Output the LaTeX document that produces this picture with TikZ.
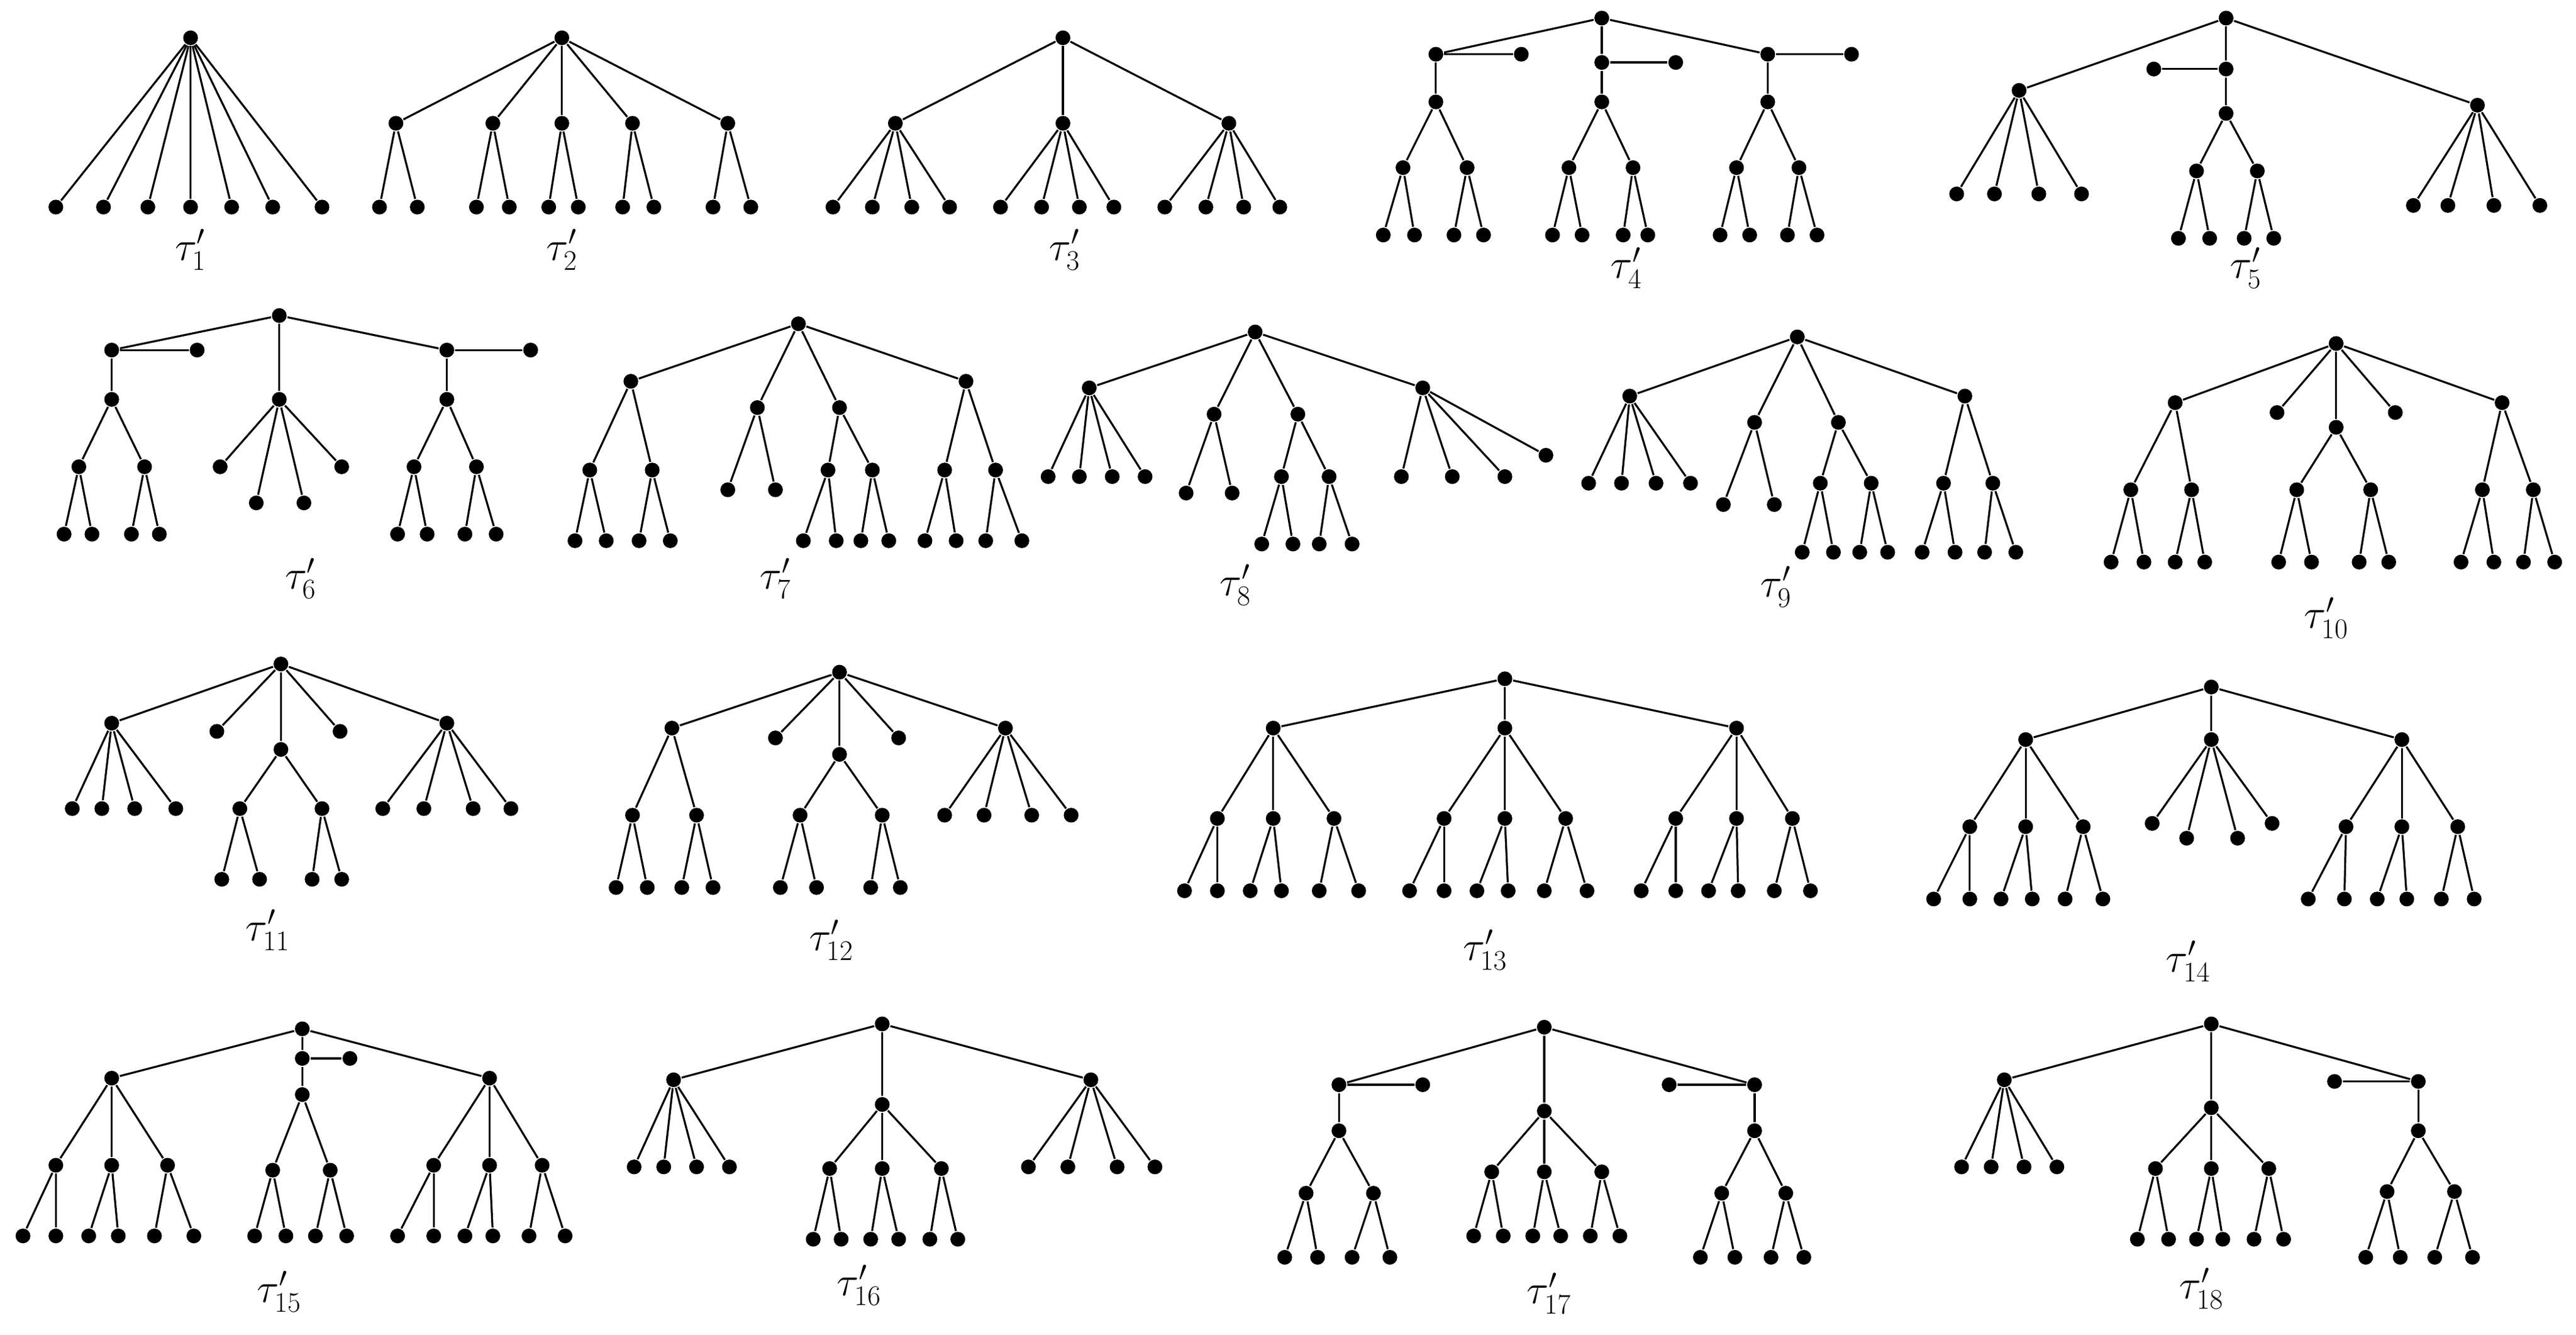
\documentclass[tikz,border=0pt]{standalone}
\begin{document}
\begin{tikzpicture}[x=1pt,y=-1pt,
  dot/.style={circle,fill=black,inner sep=0pt,minimum size=9pt},
  lbl/.style={font=\fontsize{24}{28}\selectfont},
  every path/.style={line width=1.2pt}]
\useasboundingbox (0,0) rectangle (1568,812);
\newcommand{\Nd}[1]{\foreach \n/\x/\y in {#1} \node[dot] (\n) at (\x,\y) {};}
\newcommand{\Ed}[1]{\foreach \a/\b in {#1} \draw (\a)--(\b);}
% tree 1
\Nd{Ar/116/23,A1/34/126,A2/63/126,A3/90/126,A4/116/126,A5/141/126,A6/166/126,A7/196/126}
\Ed{Ar/A1,Ar/A2,Ar/A3,Ar/A4,Ar/A5,Ar/A6,Ar/A7}
\node[lbl] (Al) at (116,152) {$\tau'_1$};
% tree 2
\Nd{Br/342/23,B1/241/75,B2/300/75,B3/342/75,B4/385/75,B5/443/75,
 Ba/231/126,Bb/254/126,Bc/290/126,Bd/310/126,Be/334/126,Bf/352/126,Bg/379/126,Bh/398/126,Bi/434/126,Bj/457/126}
\Ed{Br/B1,Br/B2,Br/B3,Br/B4,Br/B5,B1/Ba,B1/Bb,B2/Bc,B2/Bd,B3/Be,B3/Bf,B4/Bg,B4/Bh,B5/Bi,B5/Bj}
\node[lbl] (Bl) at (342,152) {$\tau'_2$};
% tree 3
\Nd{Cr/647/23,C1/545/75,C2/647/75,C3/748/75,
 Ca/507/126,Cb/531/126,Cc/555/126,Cd/578/126,Ce/609/126,Cf/634/126,Cg/657/126,Ch/678/126,Ci/709/126,Cj/734/126,Ck/757/126,Cm/779/126}
\Ed{Cr/C1,Cr/C2,Cr/C3,C1/Ca,C1/Cb,C1/Cc,C1/Cd,C2/Ce,C2/Cf,C2/Cg,C2/Ch,C3/Ci,C3/Cj,C3/Ck,C3/Cm}
\node[lbl] (Cl) at (648,152) {$\tau'_3$};
% tree 4
\Nd{Dr/975/11,D1/874/33,D1s/926/33,D1m/874/62,D1a/854/102,D1b/893/102,Da/842/143,Db/861/143,Dc/885/143,Dd/903/143,
 D2/975/38,D2s/1020/38,D2m/975/62,D2a/955/102,D2b/994/102,De/945/143,Df/963/143,Dg/988/143,Dh/1003/143,
 D3/1076/33,D3s/1127/33,D3m/1076/62,D3a/1057/102,D3b/1095/102,Di/1047/143,Dj/1065/143,Dk/1088/143,Dm/1106/143}
\Ed{Dr/D1,Dr/D2,Dr/D3,D1/D1s,D1/D1m,D1m/D1a,D1m/D1b,D1a/Da,D1a/Db,D1b/Dc,D1b/Dd,
 D2/D2s,D2/D2m,D2m/D2a,D2m/D2b,D2a/De,D2a/Df,D2b/Dg,D2b/Dh,
 D3/D3s,D3/D3m,D3m/D3a,D3m/D3b,D3a/Di,D3a/Dj,D3b/Dk,D3b/Dm}
\node[lbl] (Dl) at (990,163) {$\tau'_4$};
% tree 5
\Nd{Er/1355/11,E1/1229/55,E2/1355/42,E2s/1311/42,E2m/1355/69,E3/1508/64,
 Ea/1191/118,Eb/1214/118,Ec/1241/118,Ed/1267/118,
 E2a/1337/104,E2b/1374/104,Ee/1326/145,Ef/1345/145,Eg/1366/145,Eh/1384/145,
 Ei/1469/125,Ej/1490/125,Ek/1518/125,Em/1546/125}
\Ed{Er/E1,Er/E2,Er/E3,E1/Ea,E1/Eb,E1/Ec,E1/Ed,E2/E2s,E2/E2m,E2m/E2a,E2m/E2b,E2a/Ee,E2a/Ef,E2b/Eg,E2b/Eh,
 E3/Ei,E3/Ej,E3/Ek,E3/Em}
\node[lbl] (El) at (1367,163) {$\tau'_5$};
% tree 6
\Nd{Fr/170/192,F1/68/213,F1s/120/213,F1m/68/243,F1a/48/284,F1b/88/284,Fa/39/325,Fb/56/325,Fc/80/325,Fd/97/325,
 F2/170/243,Fe/134/284,Ff/156/306,Fg/185/306,Fh/208/284,
 F3/272/213,F3s/323/213,F3m/272/243,F3a/252/284,F3b/290/284,Fi/242/325,Fj/260/325,Fk/283/325,Fm/302/325}
\Ed{Fr/F1,Fr/F2,Fr/F3,F1/F1s,F1/F1m,F1m/F1a,F1m/F1b,F1a/Fa,F1a/Fb,F1b/Fc,F1b/Fd,
 F2/Fe,F2/Ff,F2/Fg,F2/Fh,F3/F3s,F3/F3m,F3m/F3a,F3m/F3b,F3a/Fi,F3a/Fj,F3b/Fk,F3b/Fm}
\node[lbl] (Fl) at (183,352) {$\tau'_6$};
% tree 7
\Nd{Gr/486/197,G1/384/232,G2/461/248,G3/511/248,G4/588/232,
 G1a/359/286,G1b/397/286,Ga/350/329,Gb/369/329,Gc/389/329,Gd/408/329,
 Ge/443/298,Gf/472/298,
 G3a/504/286,G3b/531/286,Gg/489/329,Gh/509/329,Gi/524/329,Gj/541/329,
 G4a/575/286,G4b/606/286,Gk/563/329,Gm/582/329,Gn/600/329,Go/622/329}
\Ed{Gr/G1,Gr/G2,Gr/G3,Gr/G4,G1/G1a,G1/G1b,G1a/Ga,G1a/Gb,G1b/Gc,G1b/Gd,G2/Ge,G2/Gf,
 G3/G3a,G3/G3b,G3a/Gg,G3a/Gh,G3b/Gi,G3b/Gj,G4/G4a,G4/G4b,G4a/Gk,G4a/Gm,G4b/Gn,G4b/Go}
\node[lbl] (Gl) at (472,352) {$\tau'_7$};
% tree 8
\Nd{Hr/764/202,H1/663/236,H2/739/252,H3/790/252,H4/866/236,
 Ha/638/290,Hb/657/290,Hc/677/290,Hd/697/290,He/722/300,Hf/750/300,
 H3a/780/290,H3b/809/290,Hg/768/331,Hh/787/331,Hi/803/331,Hj/823/331,
 Hk/853/290,Hm/884/290,Hn/916/290,Ho/941/277}
\Ed{Hr/H1,Hr/H2,Hr/H3,Hr/H4,H1/Ha,H1/Hb,H1/Hc,H1/Hd,H2/He,H2/Hf,H3/H3a,H3/H3b,H3a/Hg,H3a/Hh,H3b/Hi,H3b/Hj,
 H4/Hk,H4/Hm,H4/Hn,H4/Ho}
\node[lbl] (Hl) at (752,356) {$\tau'_8$};
% tree 9
\Nd{Ir/1094/205,I1/992/241,I2/1068/257,I3/1119/257,I4/1196/241,
 Ia/967/294,Ib/987/294,Ic/1008/294,Id/1029/294,Ie/1049/307,If/1080/307,
 I3a/1108/294,I3b/1139/294,Ig/1097/336,Ih/1116/336,Ii/1132/336,Ij/1149/336,
 I4a/1183/294,I4b/1213/294,Ik/1170/336,Im/1190/336,In/1208/336,Io/1227/336}
\Ed{Ir/I1,Ir/I2,Ir/I3,Ir/I4,I1/Ia,I1/Ib,I1/Ic,I1/Id,I2/Ie,I2/If,I3/I3a,I3/I3b,I3a/Ig,I3a/Ih,I3b/Ii,I3b/Ij,
 I4/I4a,I4/I4b,I4a/Ik,I4a/Im,I4b/In,I4b/Io}
\node[lbl] (Il) at (1081,357) {$\tau'_9$};
% tree 10
\Nd{Jr/1422/209,J1/1324/245,J2/1386/251,J3/1422/260,J4/1458/251,J5/1523/245,
 J1a/1297/298,J1b/1334/298,Ja/1285/342,Jb/1305/342,Jc/1324/342,Jd/1342/342,
 J3a/1398/298,J3b/1443/298,Je/1387/342,Jf/1407/342,Jg/1436/342,Jh/1454/342,
 J5a/1511/298,J5b/1542/298,Ji/1498/342,Jj/1518/342,Jk/1536/342,Jm/1555/342}
\Ed{Jr/J1,Jr/J2,Jr/J3,Jr/J4,Jr/J5,J1/J1a,J1/J1b,J1a/Ja,J1a/Jb,J1b/Jc,J1b/Jd,
 J3/J3a,J3/J3b,J3a/Je,J3a/Jf,J3b/Jg,J3b/Jh,J5/J5a,J5/J5b,J5a/Ji,J5a/Jj,J5b/Jk,J5b/Jm}
\node[lbl] (Jl) at (1416,376) {$\tau'_{10}$};
% tree 11
\Nd{Kr/171/404,K1/68/440,K2/132/445,K3/171/456,K4/207/445,K5/272/440,
 Ka/44/492,Kb/62/492,Kc/82/492,Kd/107/492,
 K3a/146/492,K3b/196/492,Ke/135/535,Kf/158/535,Kg/190/535,Kh/208/535,
 Ki/233/492,Kj/258/492,Kk/288/492,Km/311/492}
\Ed{Kr/K1,Kr/K2,Kr/K3,Kr/K4,Kr/K5,K1/Ka,K1/Kb,K1/Kc,K1/Kd,K3/K3a,K3/K3b,K3a/Ke,K3a/Kf,K3b/Kg,K3b/Kh,
 K5/Ki,K5/Kj,K5/Kk,K5/Km}
\node[lbl] (Kl) at (163,566) {$\tau'_{11}$};
% tree 12
\Nd{Lr/511/409,L1/409/443,L2/472/449,L3/511/459,L4/547/449,L5/612/443,
 L1a/385/496,L1b/424/496,La/375/540,Lb/394/540,Lc/415/540,Ld/434/540,
 L3a/487/496,L3b/537/496,Le/475/540,Lf/497/540,Lg/530/540,Lh/548/540,
 Li/575/496,Lj/599/496,Lk/628/496,Lm/652/496}
\Ed{Lr/L1,Lr/L2,Lr/L3,Lr/L4,Lr/L5,L1/L1a,L1/L1b,L1a/La,L1a/Lb,L1b/Lc,L1b/Ld,
 L3/L3a,L3/L3b,L3a/Le,L3a/Lf,L3b/Lg,L3b/Lh,L5/Li,L5/Lj,L5/Lk,L5/Lm}
\node[lbl] (Ll) at (506,572) {$\tau'_{12}$};
% tree 13
\Nd{Mr/916/413,M1/775/443,M2/916/443,M3/1057/443,
 M1a/741/498,M1b/775/498,M1c/812/498,Ma/721/542,Mb/741/542,Mc/761/542,Md/780/542,Me/803/542,Mf/827/542,
 M2a/879/498,M2b/916/498,M2c/953/498,Mg/858/542,Mh/879/542,Mi/899/542,Mj/918/542,Mk/940/542,Mm/966/542,
 M3a/1020/498,M3b/1057/498,M3c/1091/498,Mn/999/542,Mo/1020/542,Mp/1040/542,Mq/1058/542,Ms/1080/542,Mt/1102/542}
\Ed{Mr/M1,Mr/M2,Mr/M3,M1/M1a,M1/M1b,M1/M1c,M1a/Ma,M1a/Mb,M1b/Mc,M1b/Md,M1c/Me,M1c/Mf,
 M2/M2a,M2/M2b,M2/M2c,M2a/Mg,M2a/Mh,M2b/Mi,M2b/Mj,M2c/Mk,M2c/Mm,
 M3/M3a,M3/M3b,M3/M3c,M3a/Mn,M3a/Mo,M3b/Mp,M3b/Mq,M3c/Ms,M3c/Mt}
\node[lbl] (Ml) at (904,578) {$\tau'_{13}$};
% tree 14
\Nd{Nr/1346/418,N1/1233/450,N2/1346/450,N3/1462/450,
 N1a/1199/503,N1b/1233/503,N1c/1268/503,Na/1177/547,Nb/1199/547,Nc/1218/547,Nd/1237/547,Ne/1257/547,Nf/1280/547,
 Ng/1310/501,Nh/1331/510,Ni/1362/510,Nj/1383/501,
 N3a/1428/503,N3b/1462/503,N3c/1496/503,Nk/1405/547,Nm/1427/547,Nn/1447/547,No/1465/547,Np/1486/547,Nq/1506/547}
\Ed{Nr/N1,Nr/N2,Nr/N3,N1/N1a,N1/N1b,N1/N1c,N1a/Na,N1a/Nb,N1b/Nc,N1b/Nd,N1c/Ne,N1c/Nf,
 N2/Ng,N2/Nh,N2/Ni,N2/Nj,N3/N3a,N3/N3b,N3/N3c,N3a/Nk,N3a/Nm,N3b/Nn,N3b/No,N3c/Np,N3c/Nq}
\node[lbl] (Nl) at (1332,585) {$\tau'_{14}$};
% tree 15
\Nd{Or/184/626,O1/68/656,O2/184/644,O2s/213/644,O2m/184/666,O3/298/656,
 O1a/34/709,O1b/68/709,O1c/102/709,Oa/14/752,Ob/34/752,Oc/54/752,Od/72/752,Oe/94/752,Of/118/752,
 O2a/166/712,O2b/201/712,Og/155/752,Oh/174/752,Oi/192/752,Oj/211/752,
 O3a/264/709,O3b/298/709,O3c/330/709,Ok/242/752,Om/264/752,On/283/752,Oo/300/752,Op/322/752,Oq/344/752}
\Ed{Or/O1,Or/O2,Or/O3,O2/O2s,O2/O2m,O1/O1a,O1/O1b,O1/O1c,O1a/Oa,O1a/Ob,O1b/Oc,O1b/Od,O1c/Oe,O1c/Of,
 O2m/O2a,O2m/O2b,O2a/Og,O2a/Oh,O2b/Oi,O2b/Oj,
 O3/O3a,O3/O3b,O3/O3c,O3a/Ok,O3a/Om,O3b/On,O3b/Oo,O3c/Op,O3c/Oq}
\node[lbl] (Ol) at (170,786) {$\tau'_{15}$};
% tree 16
\Nd{Pr/537/623,P1/410/657,P2/537/672,P3/664/657,
 Pa/386/710,Pb/404/710,Pc/424/710,Pd/444/710,
 P2a/505/711,P2b/537/711,P2c/573/711,Pe/495/754,Pf/512/754,Pg/530/754,Ph/547/754,Pi/566/754,Pj/583/754,
 Pk/626/710,Pm/650/710,Pn/680/710,Po/703/710}
\Ed{Pr/P1,Pr/P2,Pr/P3,P1/Pa,P1/Pb,P1/Pc,P1/Pd,P2/P2a,P2/P2b,P2/P2c,P2a/Pe,P2a/Pf,P2b/Pg,P2b/Ph,P2c/Pi,P2c/Pj,
 P3/Pk,P3/Pm,P3/Pn,P3/Po}
\node[lbl] (Pl) at (523,782) {$\tau'_{16}$};
% tree 17
\Nd{Qr/940/625,Q1/815/660,Q1s/866/660,Q1m/815/688,Q1a/795/726,Q1b/836/726,Qa/782/765,Qb/802/765,Qc/823/765,Qd/846/765,
 Q2/940/676,Q2a/908/713,Q2b/940/713,Q2c/975/713,Qe/897/752,Qf/915/752,Qg/933/752,Qh/950/752,Qi/968/752,Qj/986/752,
 Q3/1068/660,Q3s/1016/660,Q3m/1068/688,Q3a/1048/726,Q3b/1087/726,Qk/1035/765,Qm/1056/765,Qn/1078/765,Qo/1098/765}
\Ed{Qr/Q1,Qr/Q2,Qr/Q3,Q1/Q1s,Q1/Q1m,Q1m/Q1a,Q1m/Q1b,Q1a/Qa,Q1a/Qb,Q1b/Qc,Q1b/Qd,
 Q2/Q2a,Q2/Q2b,Q2/Q2c,Q2a/Qe,Q2a/Qf,Q2b/Qg,Q2b/Qh,Q2c/Qi,Q2c/Qj,
 Q3/Q3s,Q3/Q3m,Q3m/Q3a,Q3m/Q3b,Q3a/Qk,Q3a/Qm,Q3b/Qn,Q3b/Qo}
\node[lbl] (Ql) at (943,787) {$\tau'_{17}$};
% tree 18
\Nd{Rr/1346/623,R1/1220/657,R2/1346/674,R3/1472/658,R3s/1421/658,R3m/1472/688,
 Ra/1194/710,Rb/1212/710,Rc/1232/710,Rd/1252/710,
 R2a/1312/711,R2b/1346/711,R2c/1381/711,Re/1301/754,Rf/1320/754,Rg/1337/754,Rh/1353/754,Ri/1372/754,Rj/1390/754,
 R3a/1453/725,R3b/1494/725,Rk/1440/765,Rm/1461/765,Rn/1482/765,Ro/1505/765}
\Ed{Rr/R1,Rr/R2,Rr/R3,R1/Ra,R1/Rb,R1/Rc,R1/Rd,R2/R2a,R2/R2b,R2/R2c,R2a/Re,R2a/Rf,R2b/Rg,R2b/Rh,R2c/Ri,R2c/Rj,
 R3/R3s,R3/R3m,R3m/R3a,R3m/R3b,R3a/Rk,R3a/Rm,R3b/Rn,R3b/Ro}
\node[lbl] (Rl) at (1340,784) {$\tau'_{18}$};
\end{tikzpicture}
\end{document}
